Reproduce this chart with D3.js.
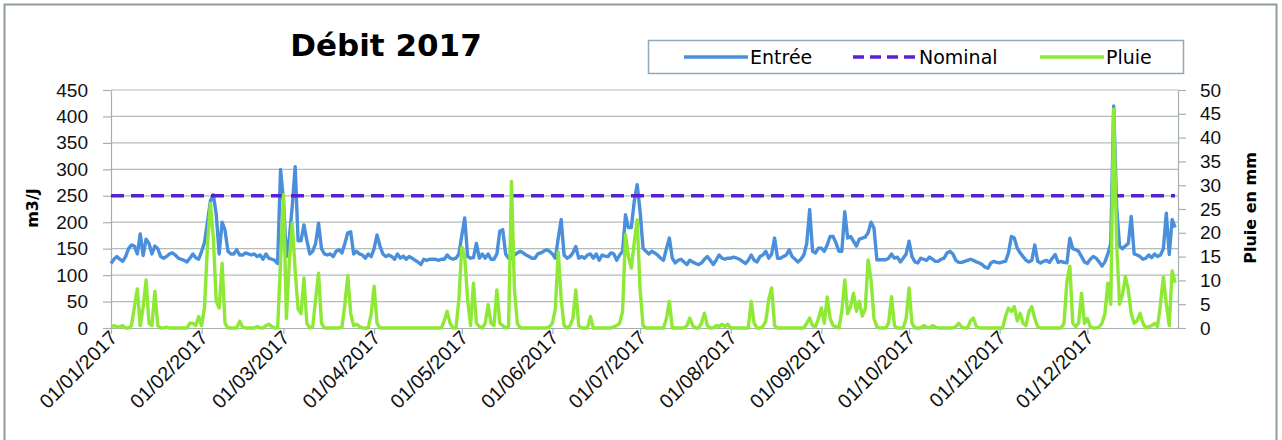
<!DOCTYPE html>
<html>
<head>
<meta charset="utf-8">
<script src="https://cdn.jsdelivr.net/npm/d3@7"></script>
<style>
  body { margin: 0; background: #fff; }
  svg { display: block; font-family: "DejaVu Sans", sans-serif; }
  .grid line { stroke: #b3bbbb; stroke-width: 1.2px; }
  .axis path, .axis line { stroke: #a7b0b0; stroke-width: 1.2px; }
  .axis text { fill: #111; font-size: 19px; }
</style>
</head>
<body>
<div id="chart"></div>
<script>

// daily flow, m3/J (1 Jan -> 31 Dec 2017)
var entree = [
  // jan
  122,130,135,130,126,135,150,157,155,140,178,137,168,160,140,155,150,135,132,135,140,142,138,132,130,128,125,132,140,133,130,
  // feb
  145,162,200,240,252,215,140,200,185,145,140,140,148,138,138,142,140,138,140,135,138,130,140,132,130,128,122,300,
  // mar
  240,135,170,230,305,165,165,195,165,140,145,160,198,150,140,138,140,135,145,148,142,160,180,182,140,145,140,138,132,140,135,
  // apr
  150,176,155,140,135,138,135,130,140,132,136,130,135,132,128,125,120,130,128,130,130,130,128,130,130,138,132,130,132,140,
  // may
  175,208,135,132,133,160,132,140,132,140,130,130,140,183,186,140,132,132,138,142,145,142,138,135,132,132,140,142,145,148,145,
  // jun
  140,132,170,205,138,132,135,142,154,132,135,132,138,140,132,140,128,138,136,135,142,140,128,138,145,214,190,190,240,271,
  // jul
  220,151,145,140,145,142,138,132,128,150,170,132,123,128,130,125,120,128,125,122,120,123,130,135,128,120,128,138,132,130,132,
  // aug
  132,134,132,130,126,122,128,138,128,125,135,138,145,132,140,170,132,132,135,138,148,135,130,125,130,138,160,224,145,142,151,
  // sep
  151,145,157,173,173,161,145,145,220,170,173,164,155,168,170,172,180,200,189,129,129,129,129,132,140,132,134,125,132,140,
  // oct
  164,135,125,123,132,130,128,134,130,126,126,130,132,142,145,140,128,124,124,126,128,130,128,125,123,120,115,113,123,126,124,
  // nov
  123,125,126,142,173,170,151,142,135,128,125,128,157,126,123,126,128,124,132,139,124,126,124,123,170,150,148,145,135,125,
  // dec
  122,130,135,132,125,117,125,140,160,420,230,155,150,155,160,211,140,138,135,130,132,138,133,140,135,138,150,217,139,205,190
];

// daily rain, mm
var pluie = [
  // jan
  0.3,0.5,0.3,0.2,0.5,0,0,0.5,4.4,8.2,0.5,4.4,10.1,1,0.5,7.7,0.5,0,0,0.2,0,0,0,0,0,0,0,1,1,0.5,2.4,
  // feb
  0.5,4.4,17.5,26.2,19,5.6,4.2,13.6,1,0,0,0,0,1.4,0.2,0,0,0,0,0.3,0,0,0.5,0.8,0.3,0,0,14,
  // mar
  28,2,14,22,12,4,3,10.5,1,0,0.3,6,11.5,1,0,0,0,0,0,0,0.2,5,11,3,0.5,0.8,0.3,0,0,0,3,
  // apr
  8.8,1,0,0,0,0,0,0,0,0,0,0,0,0,0,0,0,0,0,0,0,0,0,0,1.5,3.5,1,0,0,6,
  // may
  17,15,6,0.5,9.4,1,0.3,0,1,4.9,1,0.5,8,1,0.5,0,0.3,30.8,8,1,0,0,0,0,0,0,0,0,0,0,0.3,
  // jun
  1,4,16,6,0.5,0,0.5,2,8,0.5,0,0,0,2.4,0,0,0,0,0,0,0,0.3,0.5,1,3.5,19.6,15,12.6,18,22.7,
  // jul
  8,0.5,0,0,0,0,0,0,0,2,5.6,0,0,0,0,0,0.5,2.1,0.5,0,0,1,3.1,0.5,0,0,0.5,0.3,0.8,0.3,0.8,
  // aug
  0,0,0,0,0,0,0,5.6,1,0,0,0.3,1.5,6,8.4,0.5,0,0,0,0,0,0,0,0,0,0,1,2.1,0.5,0.3,2,
  // sep
  4.2,1,6.5,2,0.5,0.3,0,3.5,10.1,3,4.5,7.3,3.5,5.6,2.5,4,14.3,10,2,0.3,0,0,0,1,6.6,0.5,0,0,0,2,
  // oct
  8.4,1,0,0,0,0.5,0.2,0,0.5,0.2,0,0,0,0,0,0,0.3,1,0.2,0,0,1.5,2.1,0.3,0,0,0,0,0,0,0,
  // nov
  0,0,2.5,4.2,3.5,4.5,1.5,3.1,1,0.5,3.5,4.5,2,0.3,0,0,0,0,0,0,0,0,1,9.8,13,1,0.3,1,7.3,1,
  // dec
  2,0.3,0,0,0.2,1,3,9.4,5,46,18,5,7,10.8,8,3,1,1.5,3.1,1,0,0.3,0.5,1,0.3,5,10.8,5,0.5,12,9.5
];

var nominal = 250;

var leftTicks = [0, 50, 100, 150, 200, 250, 300, 350, 400, 450];
var rightTicks = [0, 5, 10, 15, 20, 25, 30, 35, 40, 45, 50];
var legendNames = ["Entrée", "Nominal", "Pluie"];

var width = 1282, height = 440;
var margin = { left: 111, right: 104, top: 90, bottom: 112 };

var svg = d3.select("#chart").append("svg")
    .attr("width", width)
    .attr("height", height);

svg.append("rect")
    .attr("width", width).attr("height", height)
    .attr("fill", "#fff");

// chart frame
svg.append("rect")
    .attr("x", 4.5).attr("y", 4.5)
    .attr("width", 1272).attr("height", 450)
    .attr("fill", "none")
    .attr("stroke", "#8f9c9c")
    .attr("stroke-width", 2);

var start = new Date(2017, 0, 1), end = new Date(2018, 0, 1);
var days = entree.map(function(v, i) { return new Date(2017, 0, 1 + i); });

var x = d3.scaleTime()
    .domain([start, end])
    .range([margin.left, width - margin.right]);

var y = d3.scaleLinear()
    .domain([0, 450])
    .range([height - margin.bottom, margin.top]);

var y2 = d3.scaleLinear()
    .domain([0, 50])
    .range([height - margin.bottom, margin.top]);

// gridlines
svg.append("g")
    .attr("class", "grid")
  .selectAll("line")
  .data(leftTicks.slice(1))
  .enter().append("line")
    .attr("x1", x.range()[0])
    .attr("x2", x.range()[1])
    .attr("y1", function(d) { return y(d); })
    .attr("y2", function(d) { return y(d); });

// axes
svg.append("g")
    .attr("class", "axis")
    .attr("transform", "translate(" + x.range()[0] + ",0)")
    .call(d3.axisLeft(y).tickValues(leftTicks).tickSize(8).tickSizeOuter(0).tickPadding(15));

svg.append("g")
    .attr("class", "axis")
    .attr("transform", "translate(" + x.range()[1] + ",0)")
    .call(d3.axisRight(y2).tickValues(rightTicks).tickSize(8).tickSizeOuter(0).tickPadding(14));

var months = d3.timeMonth.range(start, end);

var xAxis = svg.append("g")
    .attr("class", "axis")
    .attr("transform", "translate(0," + y(0) + ")")
    .call(d3.axisBottom(x).tickValues(months)
      .tickFormat(d3.timeFormat("%d/%m/%Y"))
      .tickSize(6).tickSizeOuter(0));

xAxis.selectAll("text")
    .style("font-size", "20px")
    .attr("text-anchor", "end")
    .attr("dy", null)
    .attr("y", 0)
    .attr("transform", "translate(7,11) rotate(-45)");

// series
var lineEntree = d3.line()
    .x(function(d, i) { return x(days[i]); })
    .y(function(d) { return y(d); });

var linePluie = d3.line()
    .x(function(d, i) { return x(days[i]); })
    .y(function(d) { return y2(d); });

svg.append("path")
    .datum(entree)
    .attr("fill", "none")
    .attr("stroke", "#4a8fdc")
    .attr("stroke-width", 3.4)
    .attr("stroke-linejoin", "round")
    .attr("d", lineEntree);

svg.append("line")
    .attr("x1", x(days[0]))
    .attr("x2", x(days[days.length - 1]))
    .attr("y1", y(nominal))
    .attr("y2", y(nominal))
    .attr("stroke", "#5b1fd4")
    .attr("stroke-width", 3.5)
    .attr("stroke-dasharray", "13,7");

svg.append("path")
    .datum(pluie)
    .attr("fill", "none")
    .attr("stroke", "#8ee836")
    .attr("stroke-width", 3.4)
    .attr("stroke-linejoin", "round")
    .attr("d", linePluie);

// titles
svg.append("text")
    .attr("x", 386).attr("y", 56)
    .attr("text-anchor", "middle")
    .style("font-size", "31px")
    .style("font-weight", "bold")
    .text("Débit 2017");

svg.append("text")
    .attr("transform", "translate(38,208) rotate(-90)")
    .attr("text-anchor", "middle")
    .style("font-size", "16px")
    .style("font-weight", "bold")
    .text("m3/J");

svg.append("text")
    .attr("transform", "translate(1256,208) rotate(-90)")
    .attr("text-anchor", "middle")
    .style("font-size", "16px")
    .style("font-weight", "bold")
    .text("Pluie en mm");

// legend
var legend = svg.append("g");

legend.append("rect")
    .attr("x", 648.5).attr("y", 40.5)
    .attr("width", 535).attr("height", 33)
    .attr("fill", "#fff")
    .attr("stroke", "#8aaac4")
    .attr("stroke-width", 1.5);

var legendItems = [
  { x: 684, color: "#4a8fdc", dash: null },
  { x: 853, color: "#5b1fd4", dash: "11,6" },
  { x: 1040, color: "#8ee836", dash: null }
];

legendItems.forEach(function(d, i) {
  legend.append("line")
      .attr("x1", d.x).attr("x2", d.x + 64)
      .attr("y1", 57).attr("y2", 57)
      .attr("stroke", d.color)
      .attr("stroke-width", 3.5)
      .attr("stroke-dasharray", d.dash);
  legend.append("text")
      .attr("x", d.x + 66).attr("y", 64)
      .style("font-size", "19px")
      .text(legendNames[i]);
});

</script>
</body>
</html>
